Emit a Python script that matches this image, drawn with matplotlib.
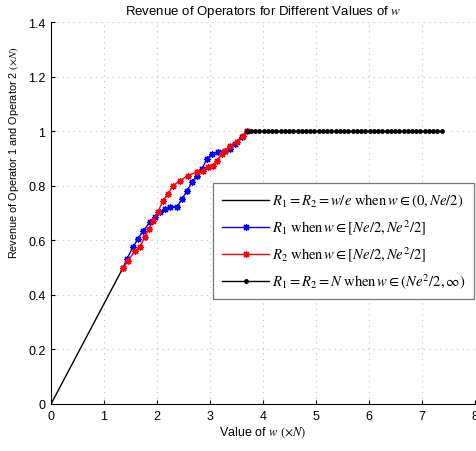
import numpy as np
import matplotlib.pyplot as plt

plt.rcParams['font.family'] = 'Liberation Sans'
plt.rcParams['mathtext.fontset'] = 'stix'

# w/e segment
lin_x = [0.0, 1.36]
lin_y = [0.0, 0.50]

# operator 1 revenue
r1_x = [1.36, 1.43, 1.55, 1.64, 1.74, 1.87, 1.96, 2.06, 2.15, 2.25, 2.38, 2.47,
        2.57, 2.66, 2.75, 2.85, 2.94, 3.04, 3.15, 3.28, 3.38, 3.47, 3.60, 3.69]
r1_y = [0.50, 0.532, 0.576, 0.606, 0.635, 0.668, 0.686, 0.705, 0.716, 0.723, 0.723, 0.752,
        0.782, 0.815, 0.837, 0.862, 0.899, 0.917, 0.925, 0.928, 0.936, 0.954, 0.980, 1.0]

# operator 2 revenue
r2_x = [1.36, 1.45, 1.58, 1.68, 1.77, 1.85, 1.92, 2.02, 2.11, 2.21, 2.30, 2.43,
        2.58, 2.75, 2.87, 2.96, 3.06, 3.13, 3.23, 3.28, 3.38, 3.51, 3.62, 3.69]
r2_y = [0.50, 0.525, 0.56, 0.576, 0.613, 0.642, 0.672, 0.705, 0.745, 0.771, 0.80, 0.818,
        0.837, 0.851, 0.855, 0.870, 0.873, 0.892, 0.917, 0.928, 0.947, 0.961, 0.983, 1.0]

# saturated region
sat_x = [3.69, 3.77, 3.85, 3.93, 4.01, 4.09, 4.17, 4.25, 4.33, 4.41, 4.49, 4.57,
         4.65, 4.73, 4.81, 4.89, 4.97, 5.05, 5.13, 5.21, 5.29, 5.37, 5.45, 5.53,
         5.61, 5.69, 5.77, 5.85, 5.93, 6.01, 6.09, 6.17, 6.25, 6.33, 6.41, 6.49,
         6.57, 6.65, 6.73, 6.81, 6.89, 6.97, 7.05, 7.13, 7.21, 7.29, 7.37]
sat_y = [1.0] * len(sat_x)

labels = [r'$R_1=R_2=w/e\ \mathrm{when}\,w\in(0,Ne/2)$',
          r'$R_1\ \mathrm{when}\,w\in[Ne/2,Ne^2/2]$',
          r'$R_2\ \mathrm{when}\,w\in[Ne/2,Ne^2/2]$',
          r'$R_1=R_2=N\ \mathrm{when}\,w\in(Ne^2/2,\infty)$']

star = (8, 2, 0)

fig = plt.figure(figsize=(4.77, 4.52), dpi=100)
ax = fig.add_axes([0.107, 0.104, 0.889, 0.845])

ax.plot(lin_x, lin_y, color='black', lw=1.0, label=labels[0])
ax.plot(r1_x, r1_y, color='blue', lw=1.0, marker=star, ms=5, mew=0.9, label=labels[1])
ax.plot(r2_x, r2_y, color='red', lw=1.0, marker=star, ms=5, mew=0.9, label=labels[2])
ax.plot(sat_x, sat_y, color='black', lw=1.0, marker='.', ms=5, label=labels[3])

ax.set_xlim(0, 8)
ax.set_ylim(0, 1.4)
ax.set_xticks(range(0, 9))
ax.set_yticks([0, 0.2, 0.4, 0.6, 0.8, 1, 1.2, 1.4])
ax.set_yticklabels(['0', '0.2', '0.4', '0.6', '0.8', '1', '1.2', '1.4'])
ax.tick_params(direction='in', labelsize=9, length=3, pad=4)
ax.grid(True, linestyle=(0, (1, 4)), color='#c0c0c0', lw=0.8)
ax.spines['top'].set_visible(False)
ax.spines['right'].set_visible(False)

ax.set_title(r'Revenue of Operators for Different Values of $\mathit{w}$', fontsize=9.5, pad=6)
ax.set_xlabel(r'Value of $w$ $(\times N)$', fontsize=9, labelpad=2)
ax.set_ylabel(r'Revenue of Operator 1 and Operator 2 $(\times N)$', fontsize=7.8)
ax.yaxis.set_label_coords(-0.072, 0.66)

leg = ax.legend(loc='upper right', bbox_to_anchor=(0.998, 0.578), fontsize=10.5,
                handlelength=3.2, fancybox=False, edgecolor='#777777',
                borderpad=0.6, labelspacing=0.55, handletextpad=0.2, framealpha=1,
                borderaxespad=0)
leg.get_frame().set_linewidth(0.9)

plt.savefig('out.png', dpi=100)
